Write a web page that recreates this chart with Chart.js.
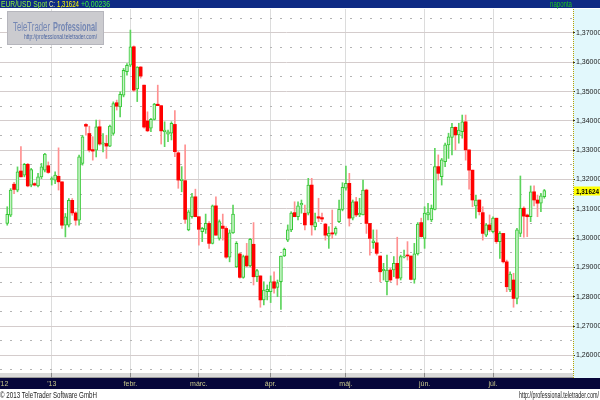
<!DOCTYPE html>
<html>
<head>
<meta charset="utf-8">
<script src="https://cdn.jsdelivr.net/npm/chart.js@4.4.0/dist/chart.umd.min.js"></script>
<style>
  html, body { margin: 0; padding: 0; background: #fff; }
  #chart { display: block; }
</style>
</head>
<body>
<canvas id="chart" width="600" height="400"></canvas>
<script>
// EUR/USD daily candles, 13 Dec 2012 .. 22 Jul 2013
const opens = [
  1.3050,1.3078,1.3184,1.3164,1.3229,1.3215,1.3252,1.3181,1.3186,1.3178,
  1.3209,1.3232,1.3247,1.3200,1.3198,1.3211,1.3192,1.3044,1.3044,1.3129,
  1.3086,1.3061,1.3255,1.3388,1.3357,1.3302,1.3300,1.3380,1.3321,1.3323,
  1.3314,1.3357,1.3462,1.3448,1.3488,1.3568,1.3590,1.3653,1.3509,1.3584,
  1.3522,1.3400,1.3375,1.3405,1.3457,1.3452,1.3363,1.3355,1.3358,1.3388,
  1.3291,1.3196,1.3196,1.3028,1.3073,1.3141,1.3073,1.3022,1.3030,1.3050,
  1.2982,1.3110,1.2999,1.3041,1.3033,1.2935,1.3018,1.2902,1.2946,1.2866,
  1.2939,1.2905,1.2979,1.2868,1.2871,1.2789,1.2817,1.2817,1.2851,1.2832,
  1.2851,1.2939,1.2993,1.3028,1.3087,1.3073,1.3113,1.3085,1.3085,1.3181,
  1.3039,1.3073,1.3070,1.3048,1.3007,1.3018,1.3016,1.3056,1.3098,1.3170,
  1.3187,1.3068,1.3124,1.3079,1.3079,1.3164,1.3050,1.2984,1.2984,1.2939,
  1.2889,1.2851,1.2891,1.2891,1.2914,1.2863,1.2935,1.2942,1.2939,1.2859,
  1.2946,1.3053,1.2999,1.3079,1.3062,1.3098,1.3244,1.3210,1.3261,1.3318,
  1.3344,1.3378,1.3352,1.3363,1.3397,1.3301,1.3232,1.3110,1.3130,1.3087,
  1.3010,1.3045,1.3022,1.3068,1.2988,1.3016,1.2919,1.2823,1.2857,1.2794,
  1.3016,1.3102,1.3079,1.3073,1.3158,1.3130,1.3119,1.3141
];
const highs = [
  1.3107,1.3169,1.3190,1.3243,1.3312,1.3255,1.3255,1.3238,1.3189,1.3221,
  1.3255,1.3289,1.3260,1.3209,1.3226,1.3308,1.3192,1.3084,1.3135,1.3135,
  1.3090,1.3283,1.3351,1.3391,1.3382,1.3346,1.3403,1.3403,1.3357,1.3351,
  1.3386,1.3465,1.3471,1.3499,1.3579,1.3596,1.3710,1.3656,1.3585,1.3585,
  1.3522,1.3431,1.3409,1.3460,1.3522,1.3452,1.3397,1.3369,1.3397,1.3435,
  1.3295,1.3244,1.3318,1.3096,1.3153,1.3167,1.3073,1.3037,1.3082,1.3056,
  1.3113,1.3141,1.3062,1.3082,1.3039,1.3028,1.3113,1.2988,1.2950,1.2942,
  1.2982,1.2999,1.3053,1.2893,1.2871,1.2851,1.2840,1.2871,1.2885,1.2857,
  1.2939,1.2966,1.3045,1.3090,1.3124,1.3124,1.3130,1.3113,1.3204,1.3204,
  1.3085,1.3136,1.3085,1.3050,1.3039,1.3096,1.3039,1.3130,1.3189,1.3246,
  1.3221,1.3130,1.3139,1.3136,1.3198,1.3167,1.3050,1.3028,1.3028,1.2939,
  1.2914,1.2942,1.2897,1.2937,1.3003,1.2942,1.2959,1.2988,1.2939,1.2982,
  1.3053,1.3068,1.3107,1.3119,1.3113,1.3306,1.3284,1.3272,1.3324,1.3358,
  1.3392,1.3380,1.3392,1.3420,1.3420,1.3301,1.3232,1.3147,1.3130,1.3107,
  1.3050,1.3079,1.3073,1.3068,1.3022,1.3016,1.2925,1.2885,1.2880,1.3033,
  1.3212,1.3107,1.3082,1.3178,1.3178,1.3147,1.3153,1.3166
];
const lows = [
  1.3044,1.3073,1.3152,1.3158,1.3209,1.3209,1.3175,1.3175,1.3178,1.3175,
  1.3203,1.3226,1.3221,1.3181,1.3186,1.3164,1.3033,1.3004,1.3038,1.3078,
  1.3044,1.3044,1.3249,1.3351,1.3294,1.3266,1.3277,1.3317,1.3294,1.3272,
  1.3312,1.3351,1.3437,1.3414,1.3482,1.3556,1.3585,1.3500,1.3466,1.3546,
  1.3375,1.3363,1.3363,1.3403,1.3452,1.3321,1.3312,1.3329,1.3335,1.3278,
  1.3170,1.3158,1.3050,1.3025,1.3068,1.3073,1.2976,1.2988,1.3016,1.2965,
  1.2980,1.3010,1.2993,1.2993,1.2931,1.2919,1.3016,1.2900,1.2863,1.2863,
  1.2902,1.2902,1.2840,1.2851,1.2764,1.2772,1.2789,1.2780,1.2812,1.2800,
  1.2757,1.2937,1.2988,1.3022,1.3073,1.3062,1.3085,1.3028,1.3079,1.3010,
  1.3028,1.3056,1.3056,1.2993,1.2965,1.2999,1.3010,1.3053,1.3093,1.3164,
  1.3041,1.3062,1.3073,1.3073,1.3079,1.3016,1.2942,1.2965,1.2942,1.2851,
  1.2857,1.2806,1.2851,1.2868,1.2840,1.2857,1.2932,1.2925,1.2857,1.2846,
  1.2942,1.3003,1.2965,1.3062,1.3056,1.3096,1.3198,1.3181,1.3244,1.3272,
  1.3284,1.3301,1.3324,1.3341,1.3266,1.3167,1.3107,1.3068,1.3079,1.2993,
  1.3005,1.3022,1.3018,1.2982,1.2931,1.2915,1.2817,1.2817,1.2764,1.2775,
  1.3005,1.3003,1.3005,1.3056,1.3110,1.3073,1.3090,1.3136
];
const closes = [
  1.3081,1.3164,1.3166,1.3226,1.3209,1.3252,1.3178,1.3234,1.3181,1.3209,
  1.3243,1.3287,1.3224,1.3203,1.3215,1.3192,1.3044,1.3073,1.3129,1.3086,
  1.3061,1.3277,1.3346,1.3382,1.3300,1.3297,1.3380,1.3321,1.3325,1.3314,
  1.3382,1.3459,1.3450,1.3491,1.3573,1.3590,1.3653,1.3505,1.3584,1.3553,
  1.3379,1.3366,1.3405,1.3457,1.3452,1.3366,1.3369,1.3363,1.3392,1.3295,
  1.3198,1.3201,1.3064,1.3090,1.3141,1.3073,1.3030,1.3033,1.3050,1.2982,
  1.3110,1.3010,1.3056,1.3033,1.2935,1.3018,1.3082,1.2982,1.2866,1.2937,
  1.2905,1.2996,1.2868,1.2889,1.2789,1.2823,1.2825,1.2851,1.2829,1.2848,
  1.2939,1.2962,1.3028,1.3085,1.3073,1.3110,1.3119,1.3045,1.3181,1.3045,
  1.3053,1.3068,1.3065,1.3010,1.3016,1.3014,1.3033,1.3098,1.3173,1.3187,
  1.3068,1.3124,1.3079,1.3085,1.3164,1.3050,1.2999,1.2991,1.2948,1.2885,
  1.2893,1.2891,1.2857,1.2914,1.2863,1.2937,1.2939,1.2939,1.2859,1.2946,
  1.3048,1.3005,1.3085,1.3087,1.3102,1.3244,1.3221,1.3267,1.3318,1.3346,
  1.3378,1.3352,1.3369,1.3397,1.3301,1.3232,1.3130,1.3130,1.3090,1.3016,
  1.3045,1.3028,1.3068,1.2988,1.3016,1.2919,1.2834,1.2877,1.2794,1.3028,
  1.3102,1.3075,1.3073,1.3158,1.3130,1.3119,1.3144,1.31624
];

// axis ticks
const yTicks = [1.26,1.27,1.28,1.29,1.30,1.31,1.32,1.33,1.34,1.35,1.36,1.37];
const yHalfTicks = [1.255,1.265,1.275,1.285,1.295,1.305,1.315,1.325,1.335,1.345,1.355,1.365,1.375];
const monthIdx = [-1, 13, 36, 56, 77, 99, 122, 142];
const monthLabels = ["'12", "'13", "febr.", "márc.", "ápr.", "máj.", "jún.", "júl."];

const lastClose = closes[closes.length - 1];
const change = "+0,00236";
const fmt = v => v.toFixed(5).replace(".", ",");

const isUp = closes.map((c, i) => c >= opens[i]);
const wickData = highs.map((h, i) => ({ x: i, y: [lows[i], h] }));
const bodyData = opens.map((o, i) => ({ x: i, y: [o, closes[i]] }));

function fitText(ctx, txt, x, y, w, font, color) {
  ctx.save();
  ctx.font = font;
  ctx.fillStyle = color;
  ctx.textBaseline = "alphabetic";
  ctx.textAlign = "left";
  const s = w / ctx.measureText(txt).width;
  ctx.translate(x, y);
  ctx.scale(s, 1);
  ctx.fillText(txt, 0, 0);
  ctx.restore();
}

const frame = {
  id: "frame",
  beforeDraw(chart) {
    const { ctx, chartArea: a, width } = chart;
    ctx.save();
    ctx.fillStyle = "#ffffff";
    ctx.fillRect(0, 0, width, chart.height);
    // price panel on the right
    ctx.fillStyle = "#e2f8fc";
    ctx.fillRect(a.right, a.top, width - a.right, a.bottom - a.top + 5);
    // time strip + dark bar
    ctx.fillStyle = "#dadada";
    ctx.fillRect(0, a.bottom, a.right, 5);
    ctx.fillStyle = "#9a9a9a";
    ctx.fillRect(0, a.bottom + 4, a.right, 1);
    ctx.fillStyle = "#06063a";
    ctx.fillRect(0, a.bottom + 5, width, 11);
    // top title bar
    ctx.fillStyle = "#0e2a84";
    ctx.fillRect(0, 0, width, 8);
    ctx.restore();
  },
  afterDraw(chart) {
    const { ctx, chartArea: a, width } = chart;
    const ys = chart.scales.y;
    ctx.save();
    // dotted divider of the price panel
    ctx.strokeStyle = "#b8a200";
    ctx.setLineDash([1, 1]);
    ctx.beginPath();
    ctx.moveTo(a.right + 0.5, a.top);
    ctx.lineTo(a.right + 0.5, a.bottom + 5);
    ctx.stroke();
    ctx.setLineDash([]);

    // title bar texts
    const f = '9px "Liberation Sans", Arial, sans-serif';
    fitText(ctx, "EUR/USD Spot", 1, 7, 46, f, "#8cf03c");
    fitText(ctx, "C:", 49, 7, 6, f, "#f0f0a0");
    fitText(ctx, fmt(lastClose), 57, 7, 22, f, "#ffff00");
    fitText(ctx, change, 81, 7, 29, f, "#3cf03c");
    fitText(ctx, "naponta", 550, 7, 22, f, "#1ec81e");

    // watermark box
    ctx.fillStyle = "#cbcbcf";
    ctx.fillRect(7, 11, 97, 34);
    ctx.strokeStyle = "#a0a0aa";
    ctx.setLineDash([1, 1]);
    ctx.strokeRect(7.5, 11.5, 96, 33);
    ctx.setLineDash([]);
    fitText(ctx, "TeleTrader", 13, 31, 37, '13px "Liberation Sans", Arial, sans-serif', "#7487b4");
    fitText(ctx, "Professional", 53, 31, 44, 'bold 13px "Liberation Sans", Arial, sans-serif', "#7487b4");
    fitText(ctx, "http://professional.teletrader.com/", 24, 39, 73, '7px "Liberation Sans", Arial, sans-serif', "#4a64a0");

    // last price tag
    const py = ys.getPixelForValue(lastClose);
    ctx.fillStyle = "#ffff00";
    ctx.fillRect(a.right + 1, py - 4, width - a.right - 1, 9);
    fitText(ctx, fmt(lastClose), a.right + 3, py + 3.5, 23, 'bold 8px "Liberation Sans", Arial, sans-serif', "#000000");

    // footer
    fitText(ctx, "© 2013 TeleTrader Software GmbH", 0, 398, 97, '9px "Liberation Sans", Arial, sans-serif', "#222222");
    fitText(ctx, "http://professional.teletrader.com/", 519, 398, 80, '9px "Liberation Sans", Arial, sans-serif', "#222222");
    ctx.restore();
  }
};

new Chart(document.getElementById("chart"), {
  type: "bar",
  data: {
    datasets: [
      {
        label: "body",
        data: bodyData,
        order: 0,
        grouped: false,
        barThickness: 3,
        minBarLength: 1,
        borderSkipped: false,
        backgroundColor: isUp.map(u => (u ? "#c6f2c6" : "#ff0000")),
        borderColor: isUp.map(u => (u ? "#34c834" : "#ff0000")),
        borderWidth: isUp.map(u => (u ? 1 : 0))
      },
      {
        label: "wick",
        data: wickData,
        order: 1,
        grouped: false,
        barThickness: 1,
        minBarLength: 1,
        borderWidth: 0,
        backgroundColor: isUp.map(u => (u ? "#5cd45c" : "#ff9090"))
      }
    ]
  },
  options: {
    responsive: false,
    animation: false,
    layout: { padding: { top: 9, left: 0, right: 0, bottom: 0 } },
    plugins: { legend: { display: false }, tooltip: { enabled: false } },
    scales: {
      x: {
        type: "linear",
        min: -2.116,
        max: 165.38,
        offset: false,
        afterBuildTicks: s => { s.ticks = monthIdx.map(v => ({ value: v })); },
        afterFit: s => { s.height = 27; s.paddingLeft = 0; s.paddingRight = 0; },
        grid: {
          offset: false,
          color: c => (c.tick && c.tick.value < 0 ? "rgba(0,0,0,0)" : "#dcdcdc"),
          tickColor: c => (c.tick && c.tick.value < 0 ? "rgba(0,0,0,0)" : "#8a8a8a"),
          tickLength: 5
        },
        border: { display: false },
        ticks: {
          autoSkip: false,
          maxRotation: 0,
          padding: 2,
          color: "#c8c88c",
          font: { family: '"Liberation Sans Narrow", "Liberation Sans", Arial', size: 7 },
          callback: v => monthLabels[monthIdx.indexOf(v)]
        }
      },
      y: {
        position: "right",
        min: 1.25396,
        max: 1.37819,
        afterBuildTicks: s => { s.ticks = yTicks.map(v => ({ value: v })); },
        afterFit: s => { s.width = 27; s.paddingTop = 0; s.paddingBottom = 0; },
        grid: { color: "#d4cccc", tickColor: "#333333", tickLength: 2 },
        border: { display: false },
        ticks: {
          padding: 1,
          color: "#1a1a1a",
          font: { family: '"Liberation Sans Narrow", "Liberation Sans", Arial', size: 7 },
          callback: v => fmt(v)
        }
      },
      yHalf: {
        position: "left",
        min: 1.25396,
        max: 1.37819,
        afterBuildTicks: s => { s.ticks = yHalfTicks.map(v => ({ value: v })); },
        afterFit: s => { s.width = 0; },
        grid: { color: "#b4b4b4", drawTicks: false, borderDash: [2, 8] },
        border: { display: false, dash: [2, 8] },
        ticks: { display: false }
      }
    }
  },
  plugins: [frame]
});
</script>
</body>
</html>
